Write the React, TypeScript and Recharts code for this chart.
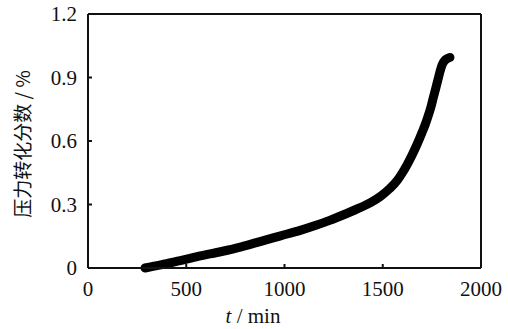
import { LineChart, Line, XAxis, YAxis, ReferenceLine } from "recharts";

// time (min) vs pressure conversion fraction (%)
const timeMin = [290, 330, 400, 470, 560, 680, 780, 880, 980, 1080, 1160, 1230, 1310, 1385, 1440, 1490, 1535, 1575, 1600, 1625, 1650, 1675, 1700, 1715, 1730, 1745, 1756, 1770, 1781, 1792, 1802, 1815, 1830, 1842];
const conversion = [0, 0.008, 0.02, 0.035, 0.055, 0.078, 0.1, 0.126, 0.152, 0.178, 0.202, 0.225, 0.255, 0.285, 0.31, 0.34, 0.375, 0.415, 0.45, 0.49, 0.535, 0.585, 0.64, 0.675, 0.715, 0.76, 0.8, 0.85, 0.89, 0.93, 0.96, 0.98, 0.99, 0.995];

const xTicks = [0, 500, 1000, 1500, 2000];
const yTicks = [0, 0.3, 0.6, 0.9, 1.2];

const data = timeMin.map((t, i) => ({ t, v: conversion[i] }));

const textStyle = { fontFamily: "Liberation Serif", fontSize: 21, fill: "#111" };

function XTick({ x, y, payload }: any) {
  return (
    <text x={x} y={y} dy="0.71em" textAnchor="middle" style={textStyle}>
      {payload.value}
    </text>
  );
}

function YTick({ x, y, payload }: any) {
  const v = payload.value as number;
  return (
    <text x={x} y={y} dy="0.355em" textAnchor="end" style={textStyle}>
      {v === 0 ? "0" : v.toFixed(1)}
    </text>
  );
}

export default function App() {
  return (
    <div style={{ position: "absolute", left: 0, top: 0, width: 508, height: 329, background: "#fff" }}>
      <LineChart width={508} height={329} data={data} margin={{ top: 14, right: 27, left: 0, bottom: 0 }}>
        <XAxis
          dataKey="t"
          type="number"
          domain={[0, 2000]}
          ticks={xTicks}
          height={61}
          stroke="#111"
          strokeWidth={2}
          tickSize={-4}
          tickMargin={17}
          tick={<XTick />}
          interval={0}
          label={{
            content: () => (
              <text x={253} y={323} textAnchor="middle" style={textStyle}>
                <tspan style={{ fontStyle: "italic" }}>t</tspan> / min
              </text>
            ),
          }}
        />
        <YAxis
          type="number"
          domain={[0, 1.2]}
          ticks={yTicks}
          width={88}
          stroke="#111"
          strokeWidth={2}
          tickSize={-4}
          tickMargin={15}
          tick={<YTick />}
          interval={0}
          label={{
            content: () => (
              <text
                x={30}
                y={144}
                transform="rotate(-90 30 144)"
                textAnchor="middle"
                style={{ fontFamily: "Noto Sans CJK SC", fontSize: 19, fill: "#111" }}
              >
                压力转化分数 / %
              </text>
            ),
          }}
        />
        <ReferenceLine y={1.2} stroke="#111" strokeWidth={2} />
        <ReferenceLine x={2000} stroke="#111" strokeWidth={2} />
        <Line
          dataKey="v"
          type="monotone"
          stroke="#000"
          strokeWidth={9}
          strokeLinecap="round"
          strokeLinejoin="round"
          dot={false}
          isAnimationActive={false}
        />
      </LineChart>
    </div>
  );
}
